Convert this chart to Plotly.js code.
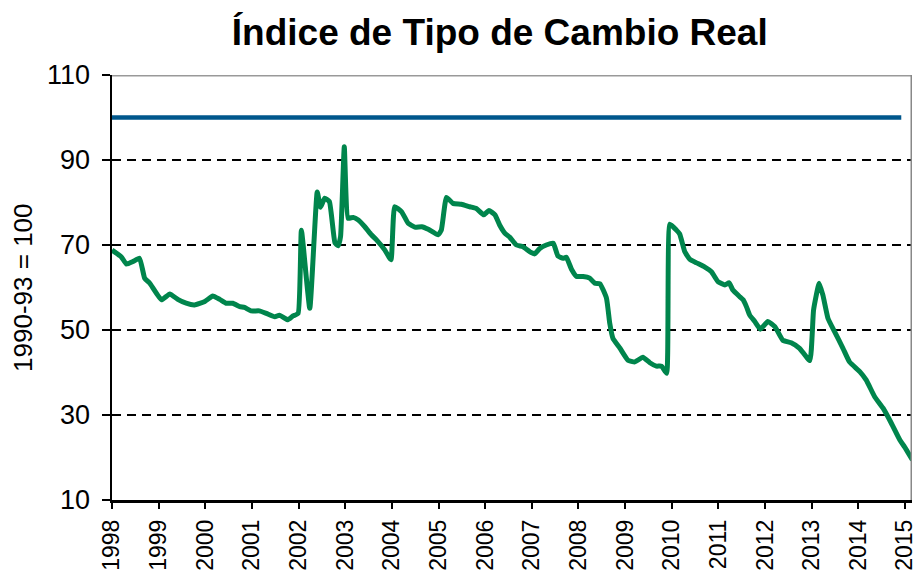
<!DOCTYPE html>
<html>
<head>
<meta charset="utf-8">
<script src="https://cdn.plot.ly/plotly-3.0.1.min.js"></script>
<style>html,body{margin:0;padding:0;background:#fff;}#chart{width:917px;height:573px;}</style>
</head>
<body>
<div id="chart"></div>
<script>
// Real exchange rate index (1990-93 = 100)
const years = [1998.00,1998.20,1998.31,1998.45,1998.59,1998.70,1998.81,1999.06,1999.24,1999.41,1999.59,1999.77,1999.99,
2000.16,2000.31,2000.45,2000.59,2000.74,2000.84,2000.98,2001.16,2001.31,2001.49,2001.59,2001.77,2001.88,2001.99,
2002.06,2002.24,2002.40,2002.47,2002.56,2002.66,2002.78,2002.85,2002.90,2002.98,
2003.06,2003.17,2003.28,2003.42,2003.56,2003.67,2003.85,2003.98,
2004.06,2004.21,2004.35,2004.49,2004.64,2004.78,2004.99,
2005.06,2005.17,2005.31,2005.49,2005.67,2005.81,2005.97,
2006.08,2006.21,2006.31,2006.42,2006.53,2006.67,2006.81,2006.96,
2007.06,2007.17,2007.31,2007.46,2007.56,2007.67,2007.74,2007.85,2007.96,
2008.10,2008.24,2008.35,2008.46,2008.60,2008.67,2008.74,2008.89,
2009.06,2009.21,2009.38,2009.53,2009.67,2009.78,2009.89,2009.96,
2010.10,2010.17,2010.28,2010.39,2010.53,2010.71,2010.85,2010.99,
2011.14,2011.23,2011.31,2011.46,2011.53,2011.60,2011.67,2011.78,2011.90,
2012.06,2012.21,2012.38,2012.56,2012.74,2012.96,
2013.04,2013.16,2013.24,2013.35,2013.49,2013.67,2013.81,
2014.03,2014.17,2014.35,2014.53,2014.71,2014.89,2014.99,2015.16];
const itcr = [68.8,67.2,65.5,66.1,66.9,62.2,61.0,57.1,58.5,57.2,56.3,55.9,56.7,
58.0,57.2,56.3,56.3,55.5,55.3,54.5,54.5,53.9,53.1,53.5,52.4,53.3,53.9,
73.5,55.1,82.5,78.9,81.0,80.2,70.5,69.8,72.0,93.1,
76.3,76.5,75.9,74.3,72.4,71.2,68.8,66.5,
79.0,77.8,75.1,74.2,74.3,73.7,72.4,
73.5,81.2,79.8,79.6,79.0,78.6,77.1,
78.1,77.1,74.7,72.8,71.8,70.0,69.6,68.4,
67.9,69.2,70.0,70.4,67.4,66.9,67.1,64.3,62.6,
62.6,62.2,61.0,60.9,57.5,51.6,48.0,45.7,
42.9,42.5,43.6,42.3,41.5,41.5,39.8,74.9,
73.5,72.6,68.4,66.6,65.8,64.8,63.7,61.4,
60.6,61.1,59.4,57.8,57.1,55.5,53.5,52.0,50.2,
52.0,50.8,47.6,47.0,45.7,42.8,
54.7,61.0,58.2,52.7,49.6,45.7,42.5,
40.2,38.2,34.3,31.6,28.0,24.1,22.5,19.4];
const baseYears = [1998.0, 2014.92];
const baseValue = [100, 100];
const yearTicks = [1998,1999,2000,2001,2002,2003,2004,2005,2006,2007,2008,2009,2010,2011,2012,2013,2014,2015];
const yearLabels = yearTicks.map(String);
const yTicks = [10,30,50,70,90,110];

const FONT = '"Liberation Sans", Arial, sans-serif';
const xMin = 1998, xMax = 2015.15;

const traces = [
  {x: baseYears, y: baseValue, type: 'scatter', mode: 'lines',
   line: {color: '#00578C', width: 4.5}, hoverinfo: 'skip'},
  {x: years, y: itcr, type: 'scatter', mode: 'lines',
   line: {color: '#00854C', width: 5, shape: 'spline', smoothing: 0.4}}
];

const layout = {
  width: 917, height: 573,
  margin: {l: 112, r: 5.3, t: 75, b: 73},
  paper_bgcolor: '#fff', plot_bgcolor: '#fff',
  showlegend: false,
  font: {family: FONT, color: '#000'},
  title: {text: '<b>Índice de Tipo de Cambio Real</b>', font: {family: FONT, size: 37, color: '#000'},
          xref: 'container', yref: 'container', x: 0.545, y: 0.944, xanchor: 'center', yanchor: 'middle'},
  xaxis: {range: [xMin, xMax], tickmode: 'array', tickvals: yearTicks, ticktext: yearLabels,
          tickangle: -90, ticks: 'outside', ticklen: 6, tickwidth: 2, tickcolor: '#000',
          ticklabelstandoff: 2, ticklabeloverflow: 'allow',
          showline: true, linecolor: '#000', linewidth: 2.5, showgrid: false, zeroline: false,
          tickfont: {size: 23, family: FONT}, automargin: false},
  yaxis: {range: [10, 110], tickmode: 'array', tickvals: yTicks,
          ticks: 'outside', ticklen: 8, tickwidth: 2, tickcolor: '#000',
          ticklabelstandoff: 6,
          showline: true, linecolor: '#000', linewidth: 2.5,
          showgrid: true, gridcolor: '#000', gridwidth: 2, griddash: '9px,6px', zeroline: false,
          tickfont: {size: 27, family: FONT}, automargin: false},
  shapes: [
    {type: 'line', xref: 'x', yref: 'y', x0: xMin, x1: xMax, y0: 110, y1: 110, layer: 'below',
     line: {color: '#999', width: 3}},
    {type: 'line', xref: 'x', yref: 'y', x0: xMax, x1: xMax, y0: 10, y1: 110, layer: 'above',
     line: {color: '#888', width: 3}}
  ],
  annotations: [
    {text: '1990-93 = 100', xref: 'paper', yref: 'paper', x: -0.112, y: 0.5, xanchor: 'center', yanchor: 'middle',
     textangle: -90, showarrow: false, font: {family: FONT, size: 26, color: '#000'}}
  ]
};

Plotly.newPlot('chart', traces, layout, {displayModeBar: false, staticPlot: true});
</script>
</body>
</html>
